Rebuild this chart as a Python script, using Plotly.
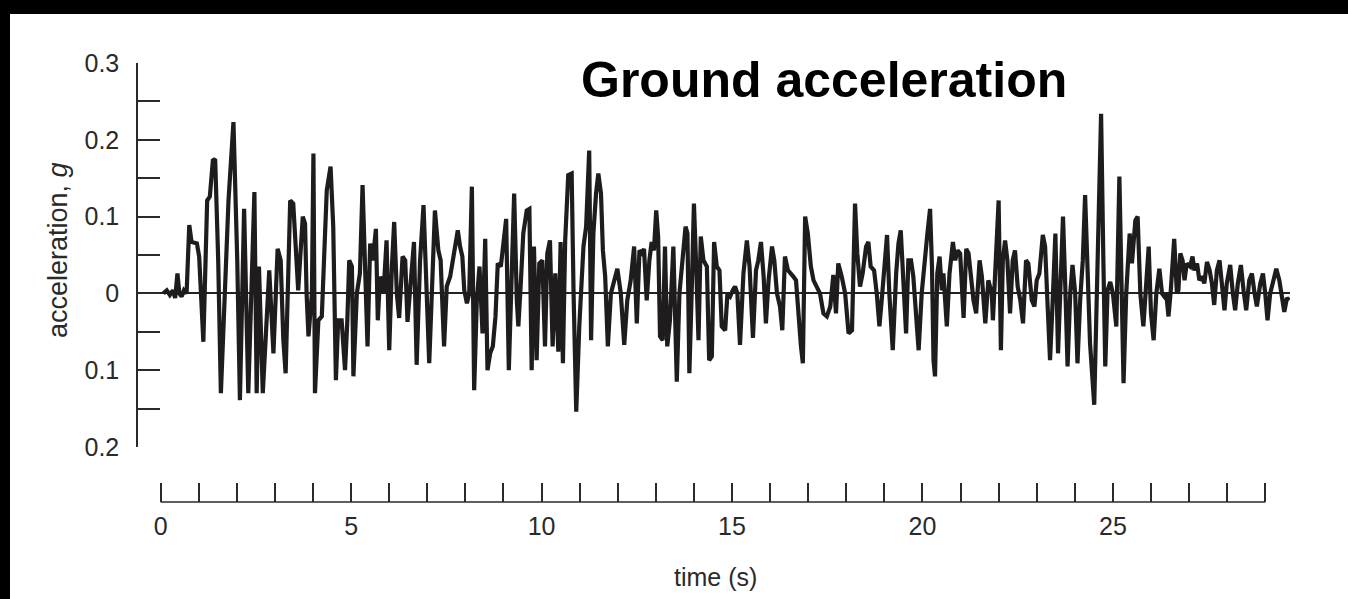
import plotly.graph_objects as go

# ---- data (time in s, ground acceleration in g) ----
time_s = [
    0.07, 0.16, 0.24, 0.32, 0.38, 0.44, 0.49, 0.55, 0.61, 0.68,
    0.75, 0.81, 0.95, 1.01, 1.12, 1.22, 1.29, 1.37, 1.43, 1.51,
    1.58, 1.69, 1.78, 1.91, 2.01, 2.08, 2.19, 2.30, 2.46, 2.52,
    2.58, 2.68, 2.77, 2.85, 2.96, 3.07, 3.15, 3.22, 3.28, 3.40,
    3.48, 3.55, 3.61, 3.73, 3.79, 3.83, 3.88, 3.97, 4.01, 4.05,
    4.14, 4.23, 4.36, 4.46, 4.53, 4.60, 4.66, 4.75, 4.84, 4.90,
    4.95, 5.02, 5.06, 5.15, 5.23, 5.30, 5.37, 5.43, 5.50, 5.57,
    5.65, 5.70, 5.76, 5.85, 5.93, 6.00, 6.07, 6.13, 6.20, 6.26,
    6.35, 6.42, 6.48, 6.56, 6.65, 6.72, 6.81, 6.90, 6.99, 7.05,
    7.20, 7.29, 7.35, 7.44, 7.51, 7.60, 7.67, 7.73, 7.80, 7.86,
    7.92, 7.97, 8.04, 8.10, 8.17, 8.23, 8.30, 8.37, 8.45, 8.52,
    8.58, 8.65, 8.72, 8.79, 8.85, 8.93, 9.00, 9.07, 9.14, 9.22,
    9.28, 9.35, 9.39, 9.45, 9.52, 9.61, 9.68, 9.74, 9.80, 9.87,
    9.94, 10.02, 10.09, 10.15, 10.22, 10.29, 10.36, 10.44, 10.50, 10.56,
    10.62, 10.70,
    10.79, 10.84, 10.91, 10.99, 11.10, 11.17, 11.25, 11.30, 11.36, 11.43,
    11.49, 11.56, 11.61, 11.67, 11.74, 11.82, 11.90, 11.99, 12.08, 12.17,
    12.25, 12.34, 12.43, 12.50, 12.57, 12.64, 12.69, 12.76, 12.83, 12.89,
    12.95, 13.01, 13.06, 13.11, 13.18, 13.24, 13.30, 13.37, 13.46, 13.55,
    13.62, 13.71, 13.78, 13.83, 13.88, 13.94, 14.00, 14.06, 14.12, 14.18,
    14.25, 14.34, 14.40,
    14.47, 14.53, 14.60, 14.67, 14.73, 14.82, 14.88, 14.95, 15.02, 15.08,
    15.14, 15.21, 15.30, 15.39, 15.46, 15.55, 15.63, 15.69, 15.76, 15.83,
    15.89, 15.96, 16.05, 16.11, 16.18, 16.26, 16.32, 16.39, 16.47, 16.55,
    16.61, 16.68, 16.74, 16.81, 16.86, 16.92, 16.99, 17.07, 17.14, 17.23,
    17.31, 17.40, 17.49, 17.58, 17.66, 17.73, 17.79, 17.88, 17.97, 18.06,
    18.15,
    18.23, 18.29, 18.36, 18.43, 18.52, 18.58, 18.64, 18.73, 18.80, 18.87,
    18.93, 19.00, 19.07, 19.13, 19.22, 19.31, 19.37, 19.43, 19.50, 19.57,
    19.63, 19.70, 19.76, 19.84, 19.90, 19.98, 20.07, 20.13, 20.20, 20.25,
    20.29, 20.33, 20.39, 20.45, 20.51, 20.55, 20.64, 20.71, 20.80, 20.86,
    20.92, 20.99, 21.08, 21.15, 21.21, 21.27, 21.34, 21.41, 21.50, 21.56,
    21.65, 21.73, 21.82,
    21.85, 21.91, 22.00, 22.06, 22.11, 22.17, 22.23, 22.30, 22.37, 22.43,
    22.50, 22.57, 22.64, 22.72, 22.78, 22.87, 22.94, 23.00, 23.07, 23.16,
    23.22, 23.28, 23.35, 23.42, 23.49, 23.56, 23.62, 23.69, 23.75, 23.81,
    23.88, 23.94, 24.01, 24.07, 24.14, 24.21, 24.27, 24.34, 24.40, 24.51,
    24.60, 24.69, 24.75, 24.80, 24.86, 24.93, 25.00, 25.09, 25.17, 25.22,
    25.28, 25.35, 25.44, 25.50,
    25.59, 25.65, 25.72, 25.80, 25.85, 25.94, 26.00, 26.07, 26.14, 26.22,
    26.29, 26.35, 26.40, 26.46, 26.52, 26.61, 26.68, 26.72, 26.77, 26.83,
    26.88, 26.94, 27.03, 27.09, 27.14, 27.21, 27.27, 27.34, 27.40, 27.47,
    27.54, 27.60, 27.66, 27.73, 27.80, 27.86, 27.93, 27.99, 28.08, 28.15,
    28.21, 28.28, 28.36, 28.43, 28.50, 28.58, 28.65, 28.72, 28.78, 28.87,
    28.94, 29.00, 29.06, 29.13, 29.22, 29.29, 29.37, 29.43, 29.50, 29.57,
    29.63,
]

accel_g = [
    0, 0.004, -0.002, 0.004, -0.006, 0.026, 0, -0.004, 0.004, 0,
    0.089, 0.067, 0.065, 0.048, -0.063, 0.121, 0.126, 0.173, 0.175, 0.043,
    -0.130, 0.022, 0.121, 0.223, 0.043, -0.139, 0.110, -0.130, 0.132, -0.130,
    0.035, -0.130, -0.052, 0.030, -0.078, 0.058, 0.043, -0.061, -0.104, 0.121,
    0.117, 0.043, 0.004, 0.100, 0.091, 0, -0.056, 0, 0.182, -0.130,
    -0.035, -0.030, 0.134, 0.165, 0.087, -0.113, -0.035, -0.035, -0.100, -0.035,
    0.043, 0.035, -0.108, 0, 0.026, 0.141, 0, -0.069, 0.065, 0.043,
    0.084, -0.035, 0.022, 0, 0.069, -0.074, 0.035, 0.093, 0, -0.032,
    0.048, 0.043, -0.037, 0.009, 0.067, -0.093, 0.043, 0.115, 0, -0.091,
    0.108, 0.056, 0.043, -0.069, 0.009, 0.022, 0.043, 0.061, 0.082, 0.061,
    0.048, 0.004, -0.013, 0, 0.139, -0.126, -0.009, 0.035, -0.052, 0.071,
    -0.100, -0.078, -0.069, -0.030, 0.039, 0.035, 0.061, 0.097, -0.100, 0.035,
    0.130, -0.009, -0.043, 0.009, 0.078, 0.108, 0.110, -0.100, 0.061, -0.087,
    0.039, 0.043, -0.069, 0.052, 0.069, -0.069, 0.026, -0.076, 0.067, -0.091,
    0.069, 0.154,
    0.156, 0, -0.154, -0.043, 0.061, 0.087, 0.186, -0.061, 0.078, 0.130,
    0.156, 0.130, 0.056, 0.022, -0.069, 0, 0.017, 0.032, 0, -0.067,
    -0.009, 0.017, 0.061, -0.039, 0.056, 0.052, 0.058, -0.009, 0.043, 0.067,
    0.056, 0.108, 0.074, -0.056, -0.061, 0.061, -0.069, -0.035, 0.061, -0.115,
    0, 0.048, 0.087, 0.078, -0.104, 0, 0.117, 0.035, -0.061, 0.074,
    0.043, 0.035, -0.087,
    -0.082, 0.067, 0.035, 0.030, -0.043, -0.048, 0, -0.004, 0.004, 0.009,
    0, -0.067, 0.026, 0.069, 0.035, -0.058, 0.030, 0.043, 0.067, 0.022,
    -0.039, 0.017, 0.061, 0.043, 0, -0.017, -0.048, 0.048, 0.030, 0.026,
    0.022, 0.017, -0.026, -0.069, -0.091, 0.100, 0.078, 0.035, 0.017, 0.009,
    0, -0.026, -0.030, -0.017, 0.024, -0.026, 0.039, 0.022, 0, -0.052,
    -0.048,
    0.117, 0.052, 0.009, 0.026, 0.061, 0.067, 0.035, 0.030, 0, -0.043,
    -0.009, 0.043, 0.076, 0, -0.074, 0.026, 0.065, 0.082, 0.026, -0.052,
    0.043, 0.043, 0.022, -0.026, -0.074, 0, 0.052, 0.078, 0.110, 0.035,
    -0.087, -0.108, 0.026, 0.048, 0.004, 0.026, -0.043, 0.026, 0.067, 0.043,
    0.056, 0.052, -0.032, 0.058, 0.052, 0.026, -0.009, -0.026, 0.043, 0.022,
    -0.039, 0.017, 0,
    -0.035, 0.026, 0.121, -0.074, 0.043, 0.069, 0.043, -0.026, 0.043, 0.056,
    0.009, -0.009, -0.039, 0.043, 0.039, -0.009, -0.017, 0.017, 0.026, 0.076,
    0.061, -0.009, -0.087, -0.009, 0.078, -0.078, -0.009, 0.100, 0.009, -0.095,
    0, 0.037, 0, -0.091, -0.009, 0.043, 0.128, 0, -0.065, -0.145,
    0.043, 0.234, 0.043, -0.095, 0.004, 0.015, 0, -0.043, 0.152, 0,
    -0.117, 0, 0.078, 0.039,
    0.095, 0.100, 0, -0.043, 0, 0.061, -0.026, -0.061, 0, 0.032,
    0, -0.004, 0, -0.030, 0.004, 0.071, 0, 0.004, 0.052, 0.043,
    0.017, 0.039, 0.035, 0.048, 0.030, 0.039, 0.017, 0.022, 0.013, 0.041,
    0.030, 0.013, -0.015, 0.030, 0.043, 0.017, -0.022, 0.013, 0.037, 0,
    -0.022, 0.013, 0.037, 0.004, -0.022, 0.017, 0.026, 0, -0.017, 0.013,
    0.026, 0, -0.035, 0, 0.017, 0.032, 0.017, 0, -0.024, -0.006,
    -0.009,
]

x_tick_vals = [0, 1, 2, 3, 4, 5, 6, 7, 8, 9, 10, 11, 12, 13, 14, 15,
               16, 17, 18, 19, 20, 21, 22, 23, 24, 25, 26, 27, 28, 29]
x_tick_text = ["0", "", "", "", "", "5", "", "", "", "", "10", "", "", "", "", "15",
               "", "", "", "", "20", "", "", "", "", "25", "", "", "", ""]
y_tick_vals = [-0.2, -0.15, -0.1, -0.05, 0, 0.05, 0.1, 0.15, 0.2, 0.25, 0.3]
y_tick_text = ["0.2", "", "0.1", "", "0", "", "0.1", "", "0.2", "", "0.3"]

# ---- layout geometry (pixels) ----
W, H = 1348, 599
L, R, T, B = 138, 58, 63, 97
PW, PH = W - L - R, H - T - B
Y_AXIS_BOTTOM = 447


def px_x(px):
    return (px - L) / PW


def px_y(py):
    return (H - B - py) / PH


FONT = "Liberation Sans, Arial, Helvetica, sans-serif"
INK = "#2a2a2a"

fig = go.Figure()
fig.add_trace(go.Scatter(
    x=time_s, y=accel_g, mode="lines",
    line=dict(color="#1f1c1d", width=4.2),
    hoverinfo="skip", showlegend=False,
))

fig.update_layout(
    width=W, height=H,
    margin=dict(l=L, r=R, t=T, b=B, pad=0),
    paper_bgcolor="white", plot_bgcolor="white",
    font=dict(family=FONT, color=INK, size=24),
    showlegend=False,
    xaxis=dict(
        range=[-0.596, 29.65],
        anchor="free", position=0,
        showgrid=False, zeroline=False, showline=False,
        ticks="inside", ticklen=19, tickwidth=1.5, tickcolor=INK,
        tickvals=x_tick_vals, ticktext=x_tick_text,
        tickfont=dict(size=25, color=INK, family=FONT),
        ticklabelstandoff=7,
    ),
    yaxis=dict(
        domain=[px_y(Y_AXIS_BOTTOM), 1],
        range=[-0.2, 0.3],
        showgrid=False,
        showline=True, linecolor=INK, linewidth=1.5,
        zeroline=True, zerolinecolor="#222", zerolinewidth=2,
        ticks="inside", ticklen=22, tickwidth=1.5, tickcolor=INK,
        tickvals=y_tick_vals, ticktext=y_tick_text,
        tickfont=dict(size=25, color=INK, family=FONT),
        ticklabelstandoff=12,
    ),
    shapes=[
        dict(type="line", xref="x", yref="paper",
             x0=x_tick_vals[0], x1=x_tick_vals[-1], y0=0, y1=0,
             line=dict(color=INK, width=1.5)),
        dict(type="rect", xref="paper", yref="paper",
             x0=-1, x1=2, y0=px_y(14), y1=2,
             fillcolor="black", line=dict(width=0), layer="above"),
        dict(type="rect", xref="paper", yref="paper",
             x0=-1, x1=px_x(10), y0=-1, y1=2,
             fillcolor="black", line=dict(width=0), layer="above"),
    ],
    annotations=[
        dict(text="<b>Ground acceleration</b>", x=px_x(824), y=px_y(80),
             xref="paper", yref="paper", xanchor="center", yanchor="middle",
             showarrow=False, font=dict(size=50, color="black", family=FONT)),
        dict(text="acceleration, <i>g</i>", x=px_x(58), y=px_y(250),
             xref="paper", yref="paper", xanchor="center", yanchor="middle",
             textangle=-90, showarrow=False,
             font=dict(size=27, color=INK, family=FONT)),
        dict(text="time (s)", x=px_x(715), y=px_y(577),
             xref="paper", yref="paper", xanchor="center", yanchor="middle",
             showarrow=False, font=dict(size=25, color=INK, family=FONT)),
    ],
)

fig.write_html("out.html")
